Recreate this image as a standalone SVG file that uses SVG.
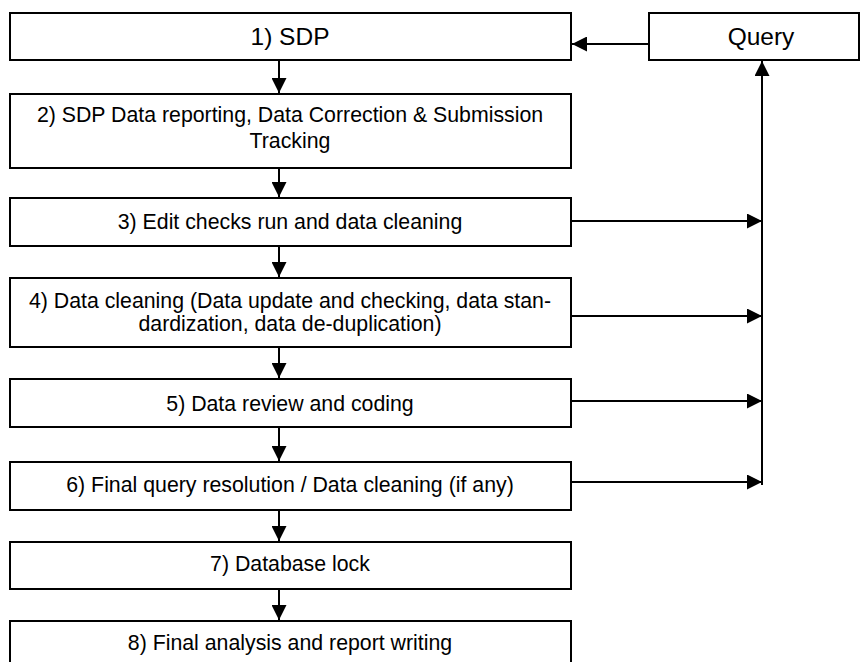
<svg xmlns="http://www.w3.org/2000/svg" width="864" height="662" viewBox="0 0 864 662">
<defs>
<style>
.box{fill:#fff;stroke:#000;stroke-width:2}
.t{font-family:"Liberation Sans",Arial,sans-serif;font-size:21.3px;fill:#000;text-anchor:middle}
.tb{font-size:24.5px}
.c{stroke:#000;stroke-width:2;fill:none}
</style>
<marker id="ah" viewBox="0 0 10 10" refX="10" refY="5" markerWidth="15" markerHeight="15" markerUnits="userSpaceOnUse" orient="auto">
<path d="M0,0 L10,5 L0,10 z" fill="#000"/>
</marker>
</defs>
<g id="n1"><rect class="box" x="10" y="13" width="561" height="47"/><text class="t tb" x="290" y="45">1) SDP</text></g>
<g id="nq"><rect class="box" x="649" y="13" width="210" height="47"/><text class="t tb" x="761" y="45">Query</text></g>
<g id="n2"><rect class="box" x="10" y="94" width="561" height="74"/><text class="t" x="290" y="122">2) SDP Data reporting, Data Correction &amp; Submission</text><text class="t" x="290" y="148">Tracking</text></g>
<g id="n3"><rect class="box" x="10" y="198" width="561" height="48"/><text class="t" x="290" y="229">3) Edit checks run and data cleaning</text></g>
<g id="n4"><rect class="box" x="10" y="278" width="561" height="69"/><text class="t" x="290" y="308">4) Data cleaning (Data update and checking, data stan-</text><text class="t" x="290" y="331">dardization, data de-duplication)</text></g>
<g id="n5"><rect class="box" x="10" y="379" width="561" height="48"/><text class="t" x="290" y="411">5) Data review and coding</text></g>
<g id="n6"><rect class="box" x="10" y="462" width="561" height="48"/><text class="t" x="290" y="492">6) Final query resolution / Data cleaning (if any)</text></g>
<g id="n7"><rect class="box" x="10" y="542" width="561" height="47"/><text class="t" x="290" y="571">7) Database lock</text></g>
<g id="n8"><rect class="box" x="10" y="621" width="561" height="60"/><text class="t" x="290" y="650">8) Final analysis and report writing</text></g>
<g id="connectors">
<line class="c" x1="649" y1="44" x2="572" y2="44" marker-end="url(#ah)"/>
<line class="c" x1="279" y1="60" x2="279" y2="93" marker-end="url(#ah)"/>
<line class="c" x1="279" y1="168" x2="279" y2="197" marker-end="url(#ah)"/>
<line class="c" x1="279" y1="246" x2="279" y2="277" marker-end="url(#ah)"/>
<line class="c" x1="279" y1="347" x2="279" y2="378" marker-end="url(#ah)"/>
<line class="c" x1="279" y1="427" x2="279" y2="461" marker-end="url(#ah)"/>
<line class="c" x1="279" y1="510" x2="279" y2="541" marker-end="url(#ah)"/>
<line class="c" x1="279" y1="589" x2="279" y2="620" marker-end="url(#ah)"/>
<line class="c" x1="571" y1="221" x2="762" y2="221" marker-end="url(#ah)"/>
<line class="c" x1="571" y1="316" x2="762" y2="316" marker-end="url(#ah)"/>
<line class="c" x1="571" y1="401" x2="762" y2="401" marker-end="url(#ah)"/>
<line class="c" x1="571" y1="482" x2="762" y2="482" marker-end="url(#ah)"/>
<line class="c" x1="762" y1="485" x2="762" y2="61" marker-end="url(#ah)"/>
</g>
</svg>
